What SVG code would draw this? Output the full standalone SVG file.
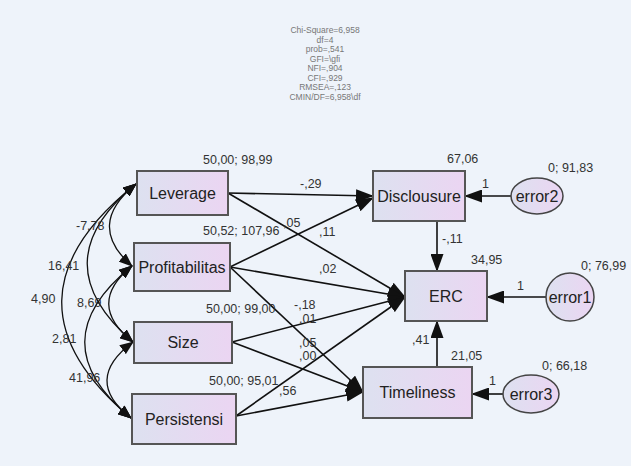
<svg xmlns="http://www.w3.org/2000/svg" width="631" height="466" viewBox="0 0 631 466">
<defs>
<linearGradient id="g" x1="0" y1="0" x2="1" y2="0">
<stop offset="0" stop-color="#dde1f0"/>
<stop offset="1" stop-color="#ebd5f2"/>
</linearGradient>
<marker id="ah" markerUnits="userSpaceOnUse" markerWidth="18" markerHeight="13" refX="17" refY="6.5" orient="auto-start-reverse" viewBox="0 0 18 13">
<path d="M0,0 L18,6.5 L0,13 Z" fill="#111"/>
</marker>
<marker id="as" markerUnits="userSpaceOnUse" markerWidth="14" markerHeight="11" refX="13" refY="5.5" orient="auto-start-reverse" viewBox="0 0 14 11">
<path d="M0,0 L14,5.5 L0,11 Z" fill="#111"/>
</marker>
</defs>
<style>
.box{fill:url(#g);stroke:#555;stroke-width:2}
.ell{fill:url(#g);stroke:#444;stroke-width:1.5}
.lbl{font-family:"Liberation Sans",Arial,sans-serif;font-size:16px;fill:#222;text-anchor:middle}
.num{font-family:"Liberation Sans",Arial,sans-serif;font-size:12.5px;fill:#333}
.st{font-family:"Liberation Sans",Arial,sans-serif;font-size:8.5px;fill:#777;text-anchor:middle}
.p{fill:none;stroke:#111;stroke-width:1.6;marker-end:url(#ah)}
.c{fill:none;stroke:#111;stroke-width:1.3;marker-start:url(#as);marker-end:url(#as)}
</style>
<rect width="631" height="466" fill="#eef3fa"/>
<g id="stats">
<text class="st" x="325" y="33">Chi-Square=6,958</text>
<text class="st" x="325" y="42.5">df=4</text>
<text class="st" x="325" y="52">prob=,541</text>
<text class="st" x="325" y="61.5">GFI=\gfi</text>
<text class="st" x="325" y="71">NFI=,904</text>
<text class="st" x="325" y="80.5">CFI=,929</text>
<text class="st" x="325" y="90">RMSEA=,123</text>
<text class="st" x="325" y="99.5">CMIN/DF=6,958\df</text>
</g>
<g id="connectors">
<path class="p" d="M228,193 L373,196"/>
<path class="p" d="M228,193 L405,297"/>
<path class="p" d="M230,267 L373,198"/>
<path class="p" d="M230,267 L405,297"/>
<path class="p" d="M230,267 L363,392"/>
<path class="p" d="M232,342 L405,297"/>
<path class="p" d="M232,342 L363,392"/>
<path class="p" d="M236,416 L405,297"/>
<path class="p" d="M236,416 L363,392"/>
<path class="p" d="M437,221 L437,271"/>
<path class="p" d="M437,367 L437,321"/>
<path class="p" d="M511,196 L465,196"/>
<path class="p" d="M546,297 L487,297"/>
<path class="p" d="M503,394 L472,394"/>
<path class="c" d="M136,184 Q85,225 132,266"/>
<path class="c" d="M132,266 Q85,304 133,342"/>
<path class="c" d="M133,342 Q82,380 131,418"/>
<path class="c" d="M136,184 Q40,262 133,342"/>
<path class="c" d="M132,266 Q38,342 131,418"/>
<path class="c" d="M136,184 Q-10,300 131,418"/>
</g>
<g id="Leverage"><rect class="box" x="137" y="171" width="91" height="44"/><text class="lbl" x="182.5" y="199">Leverage</text></g>
<g id="Profitabilitas"><rect class="box" x="134" y="243" width="96" height="48"/><text class="lbl" x="182" y="273">Profitabilitas</text></g>
<g id="Size"><rect class="box" x="134" y="322" width="98" height="41"/><text class="lbl" x="183" y="348">Size</text></g>
<g id="Persistensi"><rect class="box" x="132" y="394" width="104" height="50"/><text class="lbl" x="184" y="425">Persistensi</text></g>
<g id="Disclousure"><rect class="box" x="373" y="171" width="92" height="50"/><text class="lbl" x="419" y="202">Disclousure</text></g>
<g id="ERC"><rect class="box" x="405" y="271" width="82" height="50"/><text class="lbl" x="446" y="302">ERC</text></g>
<g id="Timeliness"><rect class="box" x="363" y="367" width="109" height="51"/><text class="lbl" x="417.5" y="398">Timeliness</text></g>
<g id="error2"><ellipse class="ell" cx="537" cy="196" rx="26" ry="18"/><text class="lbl" x="537" y="202">error2</text></g>
<g id="error1"><ellipse class="ell" cx="570" cy="297" rx="24" ry="24"/><text class="lbl" x="570" y="303">error1</text></g>
<g id="error3"><ellipse class="ell" cx="531" cy="394" rx="28" ry="19"/><text class="lbl" x="531" y="400">error3</text></g>
<g id="labels">
<text class="num" x="203" y="163.5">50,00; 98,99</text>
<text class="num" x="447" y="162.5">67,06</text>
<text class="num" x="548" y="171.5">0; 91,83</text>
<text class="num" x="482" y="187.5">1</text>
<text class="num" x="300" y="187.5">-,29</text>
<text class="num" x="283" y="226.5">,05</text>
<text class="num" x="319" y="235.5">,11</text>
<text class="num" x="203" y="234.5">50,52; 107,96</text>
<text class="num" x="319" y="272.5">,02</text>
<text class="num" x="442" y="242.5">-,11</text>
<text class="num" x="471" y="263.5">34,95</text>
<text class="num" x="581" y="269.5">0; 76,99</text>
<text class="num" x="517" y="289.5">1</text>
<text class="num" x="206" y="312.5">50,00; 99,00</text>
<text class="num" x="294" y="308.5">-,18</text>
<text class="num" x="299" y="322.5">,01</text>
<text class="num" x="299" y="346.5">,05</text>
<text class="num" x="299" y="359.5">,00</text>
<text class="num" x="412" y="343.5">,41</text>
<text class="num" x="451" y="359.5">21,05</text>
<text class="num" x="542" y="369.5">0; 66,18</text>
<text class="num" x="489" y="384.5">1</text>
<text class="num" x="209" y="384.5">50,00; 95,01</text>
<text class="num" x="279" y="394.5">,56</text>
<text class="num" x="76" y="229.5">-7,78</text>
<text class="num" x="48" y="269.5">16,41</text>
<text class="num" x="31" y="302.5">4,90</text>
<text class="num" x="77" y="306.5">8,69</text>
<text class="num" x="52" y="342.5">2,81</text>
<text class="num" x="69" y="381.5">41,96</text>
</g>
</svg>
